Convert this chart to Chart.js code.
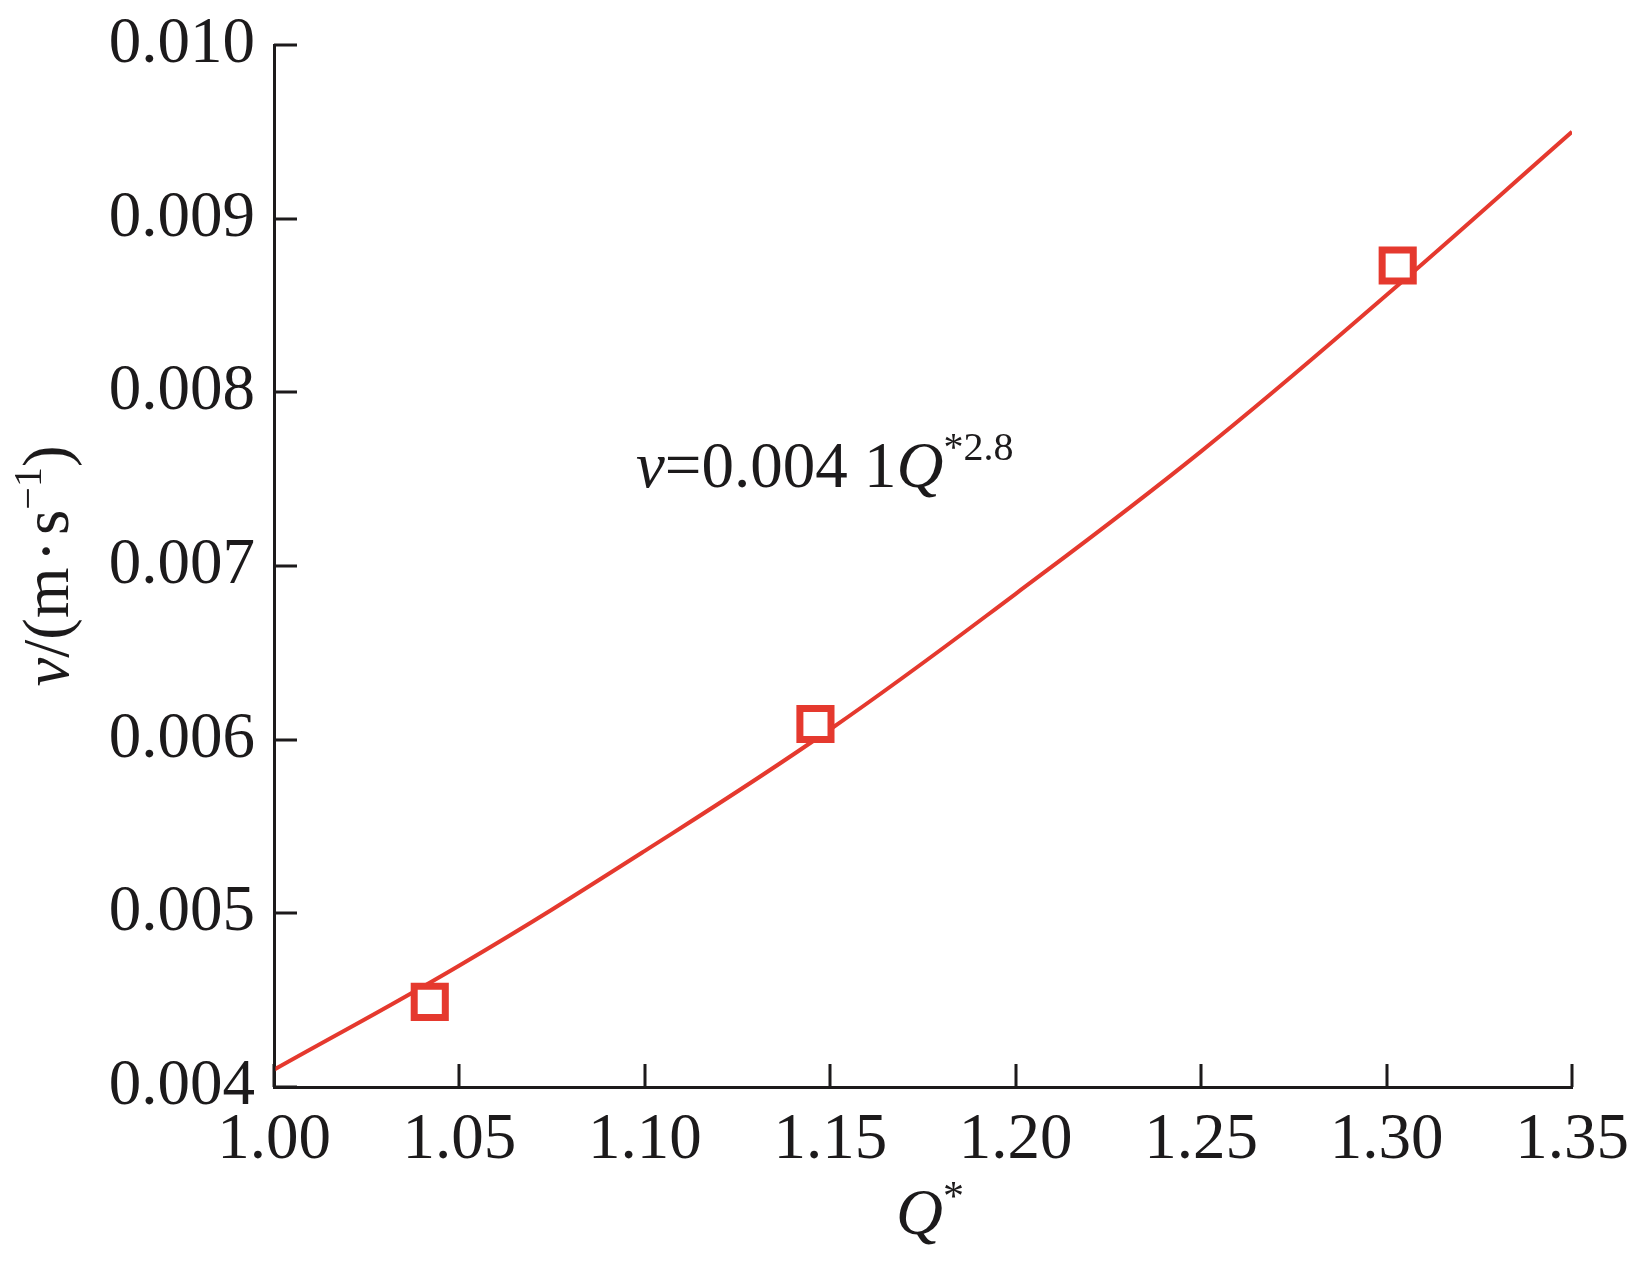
<!DOCTYPE html>
<html>
<head>
<meta charset="utf-8">
<title>v vs Q*</title>
<script src="https://cdn.jsdelivr.net/npm/chart.js@4/dist/chart.umd.min.js"></script>
<style>
  html, body { margin: 0; padding: 0; background: #fff; }
  #wrap { width: 1644px; height: 1265px; }
</style>
</head>
<body>
<div id="wrap"><canvas id="chart" width="1644" height="1265"></canvas></div>
<script>
// measured points
const qMeasured = [1.042, 1.146, 1.303];
const vMeasured = [0.00449, 0.00609, 0.00873];

// fitted curve v = 0.0041 Q^2.8, values read at the x ticks
const qCurve = [1.00, 1.05, 1.10, 1.15, 1.20, 1.25, 1.30, 1.35];
const vCurve = [0.00410, 0.00470, 0.00536, 0.00606, 0.00684, 0.00766, 0.00856, 0.00950];

// axis ranges / tick steps
const xRange = [1.00, 1.35];
const xStep = 0.05;
const yRange = [0.004, 0.010];
const yStep = 0.001;

const RED = "#e5392e";
const INK = "#1c1a1b";
const FONT = "'Liberation Serif', 'Times New Roman', serif";
const TICK_LEN = 23;

// draw a run of text pieces (italic / superscript) left to right from (x, y)
function drawRuns(ctx, runs, x, y) {
  runs.forEach(r => {
    ctx.font = (r.italic ? "italic " : "") + (r.size || 65) + "px " + FONT;
    ctx.fillText(r.t, x, y - (r.rise || 0));
    x += ctx.measureText(r.t).width;
  });
  return x;
}
function runsWidth(ctx, runs) {
  let w = 0;
  runs.forEach(r => {
    ctx.font = (r.italic ? "italic " : "") + (r.size || 65) + "px " + FONT;
    w += ctx.measureText(r.t).width;
  });
  return w;
}

const decor = {
  id: "decor",
  afterDraw(chart) {
    const {ctx, chartArea: a, scales: {x, y}} = chart;
    ctx.save();
    // inward tick marks
    ctx.strokeStyle = INK;
    ctx.lineWidth = 3;
    ctx.beginPath();
    x.ticks.forEach(t => {
      const px = Math.round(x.getPixelForValue(t.value));
      ctx.moveTo(px, a.bottom);
      ctx.lineTo(px, a.bottom - TICK_LEN);
    });
    y.ticks.forEach(t => {
      const py = Math.round(y.getPixelForValue(t.value));
      ctx.moveTo(a.left, py);
      ctx.lineTo(a.left + TICK_LEN, py);
    });
    ctx.stroke();

    ctx.fillStyle = INK;
    ctx.textBaseline = "alphabetic";
    ctx.textAlign = "left";

    // x title: Q*
    const xTitle = [{t: "Q", italic: true}, {t: "*", size: 42, rise: 24}];
    drawRuns(ctx, xTitle, 896, 1234);

    // y title: v/(m·s^-1), rotated
    const yTitle = [
      {t: "v", italic: true}, {t: "/(m"}, {t: "\u200A\u00B7\u200A"}, {t: "s"},
      {t: "\u22121", size: 40, rise: 27}, {t: ")"}
    ];
    ctx.save();
    ctx.translate(68, 566);
    ctx.rotate(-Math.PI / 2);
    drawRuns(ctx, yTitle, -runsWidth(ctx, yTitle) / 2, 0);
    ctx.restore();

    // fit equation
    const eq = [
      {t: "v", italic: true}, {t: "=0.004 1"}, {t: "Q", italic: true},
      {t: "*2.8", size: 40, rise: 27}
    ];
    drawRuns(ctx, eq, 636, 487);
    ctx.restore();
  }
};

new Chart(document.getElementById("chart"), {
  type: "scatter",
  data: {
    datasets: [
      {
        label: "measured",
        data: qMeasured.map((q, i) => ({x: q, y: vMeasured[i]})),
        pointStyle: "rect",
        pointRadius: 22,
        pointBorderWidth: 7,
        pointBorderColor: RED,
        pointBackgroundColor: "#fff",
        showLine: false,
        order: 0
      },
      {
        label: "fit",
        data: qCurve.map((q, i) => ({x: q, y: vCurve[i]})),
        showLine: true,
        borderColor: RED,
        borderWidth: 4,
        pointRadius: 0,
        tension: 0.4,
        fill: false,
        order: 1
      }
    ]
  },
  options: {
    responsive: false,
    animation: false,
    events: [],
    layout: {padding: {left: 0, right: 72, top: 45, bottom: 0}},
    plugins: {legend: {display: false}, tooltip: {enabled: false}},
    scales: {
      x: {
        type: "linear",
        min: xRange[0],
        max: xRange[1],
        afterFit: s => { s.height = 178; s.paddingLeft = 0; s.paddingRight = 0; },
        grid: {display: false, drawTicks: false},
        border: {display: true, color: INK, width: 3},
        ticks: {
          stepSize: xStep,
          autoSkip: false,
          maxRotation: 0,
          padding: 15,
          color: INK,
          font: {family: FONT, size: 65},
          callback: v => v.toFixed(2)
        }
      },
      y: {
        type: "linear",
        min: yRange[0],
        max: yRange[1],
        // keep the plot top at the layout padding, labels may overhang
        afterFit: s => { s.width = 274; s.paddingTop = 0; s.paddingBottom = 0; },
        grid: {display: false, drawTicks: false},
        border: {display: true, color: INK, width: 3},
        ticks: {
          stepSize: yStep,
          autoSkip: false,
          padding: 19,
          color: INK,
          font: {family: FONT, size: 65},
          callback: v => v.toFixed(3)
        }
      }
    }
  },
  plugins: [decor]
});
</script>
</body>
</html>
